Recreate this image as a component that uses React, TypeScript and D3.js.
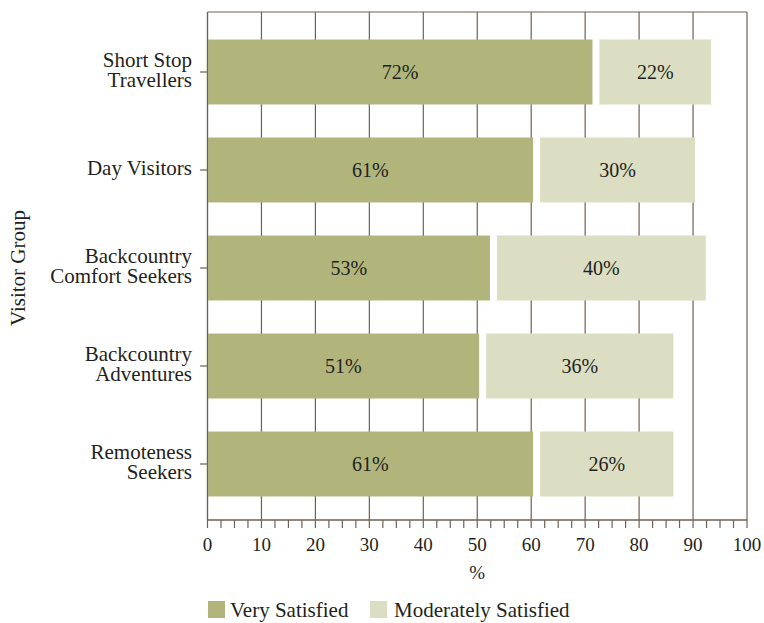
import React from "react";
import * as d3 from "d3";

const categories: string[][] = [
  ["Short Stop", "Travellers"],
  ["Day Visitors"],
  ["Backcountry", "Comfort Seekers"],
  ["Backcountry", "Adventures"],
  ["Remoteness", "Seekers"],
];
const verySatisfied = [72, 61, 53, 51, 61];
const moderatelySatisfied = [22, 30, 40, 36, 26];
const seriesNames = ["Very Satisfied", "Moderately Satisfied"];
const xTicks = [0, 10, 20, 30, 40, 50, 60, 70, 80, 90, 100];

const W = 764;
const H = 623;
const DARK = "#b1b57b";
const LIGHT = "#dbdec3";
const GRID = "#6e6057";
const TEXT = "#231f20";
const FONT = "Liberation Serif";

export default function App() {
  const x = d3.scaleLinear().domain([0, 100]).range([207.5, 747]);
  const keys = categories.map((c) => c.join(" "));
  const y = d3
    .scaleBand<string>()
    .domain(keys)
    .range([23, 513])
    .paddingInner(0.337)
    .paddingOuter(0.1685);
  const top = 12;
  const bottom = 520;
  const gap = 3.5;
  const minor = d3.range(0, 100.01, 2.5);
  const ts = { fontFamily: FONT };

  return (
    <svg width={W} height={H} style={{ position: "absolute", left: 0, top: 0, fontFamily: FONT }}>
      <rect x={0} y={0} width={W} height={H} fill="#fff" />
      {/* grid */}
      {xTicks.map((t) => (
        <line key={"g" + t} x1={x(t)} x2={x(t)} y1={top} y2={bottom} stroke={GRID} strokeWidth={1.2} />
      ))}
      <line x1={x(0)} x2={x(100)} y1={top} y2={top} stroke={GRID} strokeWidth={1.2} />
      {/* bars */}
      {keys.map((k, i) => {
        const v1 = verySatisfied[i];
        const v2 = moderatelySatisfied[i];
        const y0 = y(k)!;
        const bh = y.bandwidth();
        const cy = y0 + bh / 2;
        const x1a = x(0) + 0.6;
        const x1b = x(v1) - gap;
        const x2a = x(v1) + gap;
        const x2b = x(v1 + v2) - gap;
        return (
          <g key={k}>
            <rect x={x1a} y={y0} width={x1b - x1a} height={bh} fill={DARK} />
            <rect x={x2a} y={y0} width={x2b - x2a} height={bh} fill={LIGHT} />
            <text x={(x(0) + x1b) / 2} y={cy + 7} textAnchor="middle" fontSize={20} fill={TEXT} style={ts}>
              {v1}%
            </text>
            <text x={(x2a + x2b) / 2} y={cy + 7} textAnchor="middle" fontSize={20} fill={TEXT} style={ts}>
              {v2}%
            </text>
          </g>
        );
      })}
      {/* axes */}
      <line x1={x(0)} x2={x(0)} y1={top} y2={bottom} stroke={GRID} strokeWidth={1.2} />
      <line x1={x(0)} x2={x(100)} y1={bottom} y2={bottom} stroke={GRID} strokeWidth={1.4} />
      {minor.map((t) => (
        <line key={"m" + t} x1={x(t)} x2={x(t)} y1={bottom} y2={bottom + 8} stroke={GRID} strokeWidth={1.2} />
      ))}
      {xTicks.map((t) => (
        <text key={"t" + t} x={x(t)} y={551} textAnchor="middle" fontSize={19} fill={TEXT} style={ts}>
          {t}
        </text>
      ))}
      <text x={(x(0) + x(100)) / 2} y={579} textAnchor="middle" fontSize={19} fill={TEXT} style={ts}>
        %
      </text>
      {keys.map((k, i) => {
        const cy = y(k)! + y.bandwidth() / 2;
        const lines = categories[i];
        const lh = 20.7;
        const startBase = cy + 5 - ((lines.length - 1) * lh) / 2;
        return (
          <g key={"y" + k}>
            <line x1={200} x2={x(0)} y1={cy} y2={cy} stroke={GRID} strokeWidth={1.2} />
            {lines.map((l, j) => (
              <text key={j} x={192} y={startBase + j * lh} textAnchor="end" fontSize={21} fill={TEXT} style={ts}>
                {l}
              </text>
            ))}
          </g>
        );
      })}
      <text
        transform={`translate(25,${(23 + 513) / 2}) rotate(-90)`}
        textAnchor="middle"
        fontSize={21}
        fill={TEXT}
        style={ts}
      >
        Visitor Group
      </text>
      {/* legend */}
      <rect x={208} y={601} width={17} height={17} fill={DARK} />
      <text x={230} y={617} fontSize={21} fill={TEXT} style={ts}>
        {seriesNames[0]}
      </text>
      <rect x={370} y={601} width={17} height={17} fill={LIGHT} />
      <text x={394} y={617} fontSize={21} fill={TEXT} style={ts}>
        {seriesNames[1]}
      </text>
    </svg>
  );
}
